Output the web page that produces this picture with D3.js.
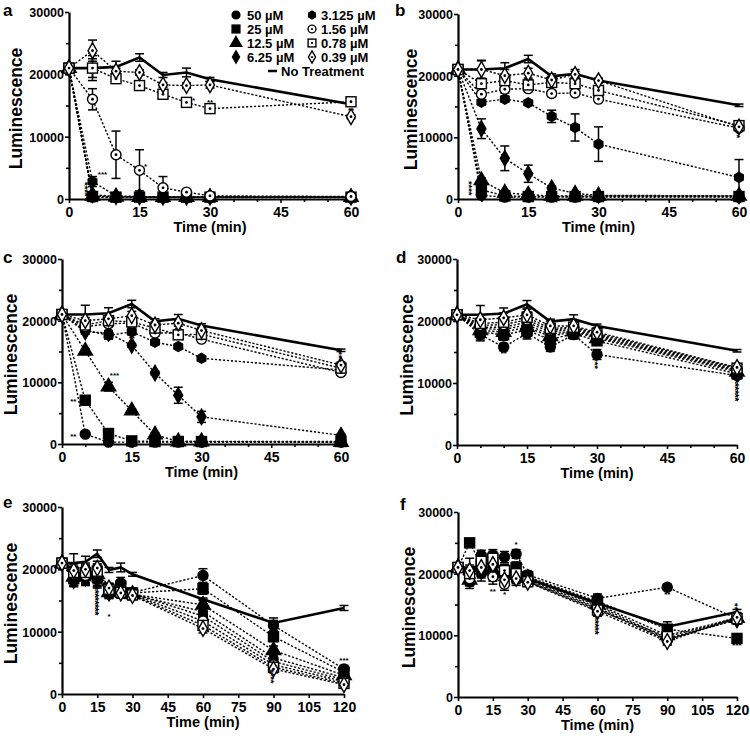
<!DOCTYPE html>
<html>
<head>
<meta charset="utf-8">
<script src="https://cdn.jsdelivr.net/npm/d3@7"></script>
<style>
  body { margin: 0; background: #fff; }
  svg { display: block; }
  text { font-family: "Liberation Sans", Arial, sans-serif; font-weight: bold; fill: #000; }
</style>
</head>
<body>
<script>
// ---- data ----
const times60 = [0, 5, 10, 15, 20, 25, 30, 60];
const times120 = [0, 5, 10, 15, 20, 25, 30, 60, 90, 120];
const concLabels = ['50 µM', '25 µM', '12.5 µM', '6.25 µM', '3.125 µM', '1.56 µM', '0.78 µM', '0.39 µM'];
const yTicks = [0, 10000, 20000, 30000];

const noTreat60 = [21000, 21000, 21200, 22700, 19900, 20300, 19200, 15200];
const noTreat60Err = [0, 1500, 900, 600, 400, 700, 300, 200];
const noTreat120 = [21000, 21000, 21200, 22500, 19900, 20300, 19200, 15200, 11400, 13800];
const noTreat120Err = [0, 1500, 900, 600, 400, 700, 300, 200, 800, 400];

// rows follow concLabels order
const panelA = [
  [21000, 300, 250, 250, 250, 250, 250, 250],
  [21000, 400, 300, 300, 300, 300, 300, 300],
  [21000, 500, 350, 300, 300, 300, 300, 300],
  [21000, 700, 400, 350, 300, 300, 300, 300],
  [21000, 2800, 500, 400, 350, 350, 350, 350],
  [21000, 16000, 7100, 4600, 1800, 1100, 500, 400],
  [21000, 21000, 19300, 18200, 16800, 15500, 14500, 15600],
  [21000, 23800, 20500, 20300, 18300, 18200, 18300, 13200]
];
const panelAErr = [
  [0, 100, 100, 100, 100, 100, 100, 100],
  [0, 100, 100, 100, 100, 100, 100, 100],
  [0, 200, 100, 100, 100, 100, 100, 100],
  [0, 300, 100, 100, 100, 100, 100, 100],
  [0, 800, 200, 100, 100, 100, 100, 100],
  [0, 1700, 3800, 3300, 1800, 300, 200, 100],
  [0, 2000, 600, 600, 500, 600, 400, 300],
  [0, 1700, 500, 400, 400, 400, 500, 300]
];

const panelB = [
  [21000, 600, 300, 300, 300, 300, 300, 300],
  [21000, 1500, 500, 400, 400, 400, 400, 400],
  [21000, 3000, 1000, 700, 500, 500, 500, 500],
  [21000, 11400, 6600, 4100, 1800, 900, 600, 500],
  [21000, 15700, 16200, 15600, 13400, 11600, 8900, 3500],
  [21000, 17000, 17800, 17900, 17100, 17200, 16200, 11500],
  [21000, 18700, 19200, 18500, 18900, 18700, 17600, 11900],
  [21000, 21000, 20000, 20400, 19300, 20200, 19200, 11700]
];
const panelBErr = [
  [0, 200, 100, 100, 100, 100, 100, 100],
  [0, 500, 200, 100, 100, 100, 100, 100],
  [0, 400, 200, 100, 100, 100, 100, 100],
  [0, 1600, 2000, 1400, 300, 200, 200, 100],
  [0, 400, 500, 400, 1000, 2200, 2800, 2900],
  [0, 500, 600, 500, 500, 400, 400, 400],
  [0, 600, 700, 800, 500, 500, 600, 400],
  [0, 1400, 1000, 800, 600, 500, 400, 400]
];

const panelC = [
  [21000, 1600, 300, 300, 300, 300, 300, 300],
  [21000, 7100, 1700, 500, 400, 400, 400, 400],
  [21000, 15100, 9300, 5400, 1500, 400, 400, 300],
  [21000, 18200, 18000, 16000, 11500, 7900, 4400, 1400],
  [21000, 18500, 17600, 18200, 16500, 15800, 13900, 12000],
  [21000, 19000, 19500, 19600, 18000, 18000, 17000, 11600],
  [21000, 19300, 20000, 19800, 18800, 17700, 17800, 12300],
  [21000, 20000, 20300, 20800, 19300, 19600, 18400, 12800]
];
const panelCErr = [
  [0, 300, 100, 100, 100, 100, 100, 100],
  [0, 700, 400, 100, 100, 100, 100, 100],
  [0, 300, 700, 300, 300, 100, 100, 100],
  [0, 400, 400, 300, 300, 1300, 900, 200],
  [0, 500, 600, 500, 400, 300, 300, 400],
  [0, 500, 500, 600, 500, 500, 500, 400],
  [0, 500, 600, 600, 500, 600, 600, 500],
  [0, 500, 500, 700, 500, 500, 500, 500]
];

const panelD = [
  [21000, 17800, 15800, 18000, 15800, 17800, 14600, 11200],
  [21000, 18200, 17800, 18500, 17000, 18000, 16800, 11500],
  [21000, 18500, 18200, 19000, 17500, 18300, 17200, 11800],
  [21000, 18800, 18600, 19400, 17800, 18500, 17400, 12000],
  [21000, 19000, 19000, 19800, 18200, 18700, 17600, 12100],
  [21000, 19300, 19400, 20200, 18500, 18900, 17800, 12300],
  [21000, 19600, 19800, 20600, 18800, 19000, 18000, 12400],
  [21000, 20200, 20500, 21000, 19200, 19200, 18200, 12500]
];
const panelDErr = [
  [0, 1000, 600, 900, 700, 700, 800, 600],
  [0, 1100, 900, 1000, 1000, 800, 700, 600],
  [0, 1000, 900, 1000, 900, 800, 700, 500],
  [0, 900, 1000, 900, 900, 700, 600, 500],
  [0, 900, 1000, 1000, 900, 700, 600, 500],
  [0, 900, 900, 900, 800, 700, 600, 500],
  [0, 800, 900, 900, 800, 600, 600, 500],
  [0, 800, 800, 900, 800, 600, 600, 500]
];

const panelE = [
  [21000, 19000, 19500, 19000, 16800, 17800, 16300, 19000, 11000, 4000],
  [21000, 18500, 19000, 18800, 16500, 17300, 16200, 16900, 9200, 3500],
  [21000, 18800, 19200, 19200, 16300, 17000, 16000, 14300, 7000, 3000],
  [21000, 18200, 18600, 18500, 16200, 16700, 16000, 13200, 5800, 2600],
  [21000, 18400, 18800, 18300, 16400, 16600, 16100, 12500, 5200, 2300],
  [21000, 19200, 19000, 19500, 16600, 16400, 16000, 11700, 4700, 2000],
  [21000, 19500, 19500, 19700, 16800, 16300, 15900, 11000, 4300, 1700],
  [21000, 19800, 20000, 20200, 17000, 16200, 15800, 10500, 4000, 1500]
];
const panelEErr = [
  [0, 1000, 1200, 1300, 900, 900, 700, 1100, 800, 600],
  [0, 1100, 1300, 1400, 900, 1000, 700, 900, 800, 600],
  [0, 1100, 1300, 1400, 900, 1000, 700, 900, 700, 500],
  [0, 1000, 1200, 1300, 900, 900, 700, 900, 700, 500],
  [0, 1000, 1200, 1300, 900, 900, 700, 800, 700, 500],
  [0, 1000, 1100, 1200, 800, 900, 700, 800, 600, 400],
  [0, 900, 1100, 1200, 800, 900, 700, 700, 600, 400],
  [0, 900, 1000, 1100, 800, 800, 700, 700, 600, 400]
];

const panelF = [
  [21000, 18800, 23000, 23000, 22700, 23200, 19800, 16000, 17800, 12700],
  [21000, 25000, 21500, 21800, 20500, 21000, 19500, 15500, 11000, 9500],
  [21000, 19000, 21000, 20500, 20000, 20500, 19300, 15000, 10000, 12800],
  [21000, 19500, 20500, 21000, 19000, 19800, 19200, 14800, 9500, 12500],
  [21000, 18600, 20000, 20000, 19500, 19000, 19000, 14500, 9300, 12600],
  [21000, 19200, 21800, 19500, 18300, 19600, 18800, 14300, 9200, 13000],
  [21000, 20000, 22000, 22500, 20500, 20000, 18700, 14100, 9800, 12700],
  [21000, 20500, 21000, 21500, 19000, 19200, 18600, 13900, 9000, 12900]
];
const panelFErr = [
  [0, 700, 800, 900, 900, 700, 600, 700, 500, 700],
  [0, 600, 1200, 1300, 1000, 900, 700, 700, 600, 500],
  [0, 1000, 1300, 1300, 1100, 900, 700, 800, 600, 700],
  [0, 1000, 1200, 1200, 1000, 900, 700, 800, 600, 700],
  [0, 1000, 1200, 1200, 1000, 900, 700, 800, 600, 700],
  [0, 900, 1100, 1200, 1000, 900, 700, 800, 600, 700],
  [0, 900, 1100, 1100, 1000, 800, 700, 800, 600, 700],
  [0, 900, 1000, 1100, 900, 800, 700, 800, 600, 700]
];

// significance asterisks: [panel, time, value, text, x offset, stacked rows]
const sigMarks = [
  ['a', 5, 4200, '***', 10, 1],
  ['a', 5, 2400, '**', -5, 4],
  ['a', 15, 5400, '*', 6, 1],
  ['a', 25, 16100, '*', 7, 1],
  ['a', 30, 15700, '**', 0, 1],
  ['a', 60, 14500, '**', 0, 1],
  ['b', 5, 2600, '**', -10, 4],
  ['b', 60, 10700, '**', 0, 2],
  ['c', 5, 1500, '**', -12, 1],
  ['c', 5, 7100, '**', -12, 1],
  ['c', 10, 11300, '***', 6, 1],
  ['c', 15, 17300, '**', 0, 1],
  ['c', 60, 14700, '**', 0, 3],
  ['d', 10, 15000, '**', 0, 1],
  ['d', 30, 13700, '**', 0, 3],
  ['d', 60, 10300, '***', 0, 6],
  ['e', 15, 17000, '***', 0, 8],
  ['e', 20, 12700, '*', 0, 1],
  ['e', 90, 3700, '**', 0, 4],
  ['e', 120, 5600, '***', 0, 1],
  ['f', 15, 17300, '**', 0, 1],
  ['f', 20, 16800, '*', 0, 1],
  ['f', 25, 25000, '*', 0, 1],
  ['f', 60, 12800, '***', 0, 5],
  ['f', 90, 16800, '**', 0, 1],
  ['f', 120, 14900, '**', 0, 2],
  ['f', 120, 8600, '***', 0, 1]
];

// marker type per concentration
const markerTypes = ['circle', 'square', 'triangle', 'diamond', 'hex', 'ocircle', 'osquare', 'odiamond'];

// ---- layout ----
const panels = [
  { id: 'a', box: [69, 12, 351, 199], times: times60, xmax: 60, xticks: [0, 15, 30, 45, 60], minor: 5,
    nt: noTreat60, ntErr: noTreat60Err, rows: panelA, errs: panelAErr, label: [3, 16], ylabX: 22, legend: true },
  { id: 'b', box: [458, 14, 739, 199], times: times60, xmax: 60, xticks: [0, 15, 30, 45, 60], minor: 5,
    nt: noTreat60, ntErr: noTreat60Err, rows: panelB, errs: panelBErr, label: [395, 16], ylabX: 417 },
  { id: 'c', box: [62, 259, 341, 444], times: times60, xmax: 60, xticks: [0, 15, 30, 45, 60], minor: 5,
    nt: noTreat60, ntErr: noTreat60Err, rows: panelC, errs: panelCErr, label: [3, 263], ylabX: 17 },
  { id: 'd', box: [457, 259, 737, 445], times: times60, xmax: 60, xticks: [0, 15, 30, 45, 60], minor: 5,
    nt: noTreat60, ntErr: noTreat60Err, rows: panelD, errs: panelDErr, label: [396, 263], ylabX: 413 },
  { id: 'e', box: [62, 507, 344, 694], times: times120, xmax: 120, xticks: d3.range(0, 121, 15), minor: 0,
    nt: noTreat120, ntErr: noTreat120Err, rows: panelE, errs: panelEErr, label: [3, 508], ylabX: 17 },
  { id: 'f', box: [458, 512, 737, 697], times: times120, xmax: 120, xticks: d3.range(0, 121, 15), minor: 0,
    nt: noTreat120, ntErr: noTreat120Err, rows: panelF, errs: panelFErr, label: [400, 510], ylabX: 415 }
];

const svg = d3.select('body').append('svg')
  .attr('width', 750)
  .attr('height', 740);

const hexPath = (r) => {
  const pts = d3.range(6).map(i => {
    const a = Math.PI / 6 + i * Math.PI / 3;
    return [r * Math.cos(a), r * Math.sin(a)];
  });
  return 'M' + pts.map(p => p.join(',')).join('L') + 'Z';
};

const drawMarker = (g, type, cx, cy, s) => {
  s = s || 1;
  const m = g.append('g').attr('transform', `translate(${cx},${cy})`);
  const filled = !type.startsWith('o');
  const fill = filled ? '#000' : '#fff';
  const base = filled ? type : type.slice(1);
  let shape;
  if (base === 'circle') {
    shape = m.append('circle').attr('r', 5 * s);
  } else if (base === 'square') {
    shape = m.append('rect').attr('x', -5 * s).attr('y', -5 * s).attr('width', 10 * s).attr('height', 10 * s);
  } else if (base === 'triangle') {
    shape = m.append('path').attr('d', d3.symbol(d3.symbolTriangle, 90 * s * s)());
  } else if (base === 'diamond') {
    shape = m.append('path').attr('d', d3.symbol(d3.symbolDiamond, 70 * s * s)());
  } else {
    shape = m.append('path').attr('d', hexPath(5 * s));
  }
  shape.attr('fill', fill).attr('stroke', '#000').attr('stroke-width', 1.4);
  if (!filled) {
    m.append('circle').attr('r', 1.4 * s).attr('fill', '#000');
  }
};

panels.forEach(p => {
  const [x0, yt, x1, yb] = p.box;
  const x = d3.scaleLinear().domain([0, p.xmax]).range([x0, x1]);
  const y = d3.scaleLinear().domain([0, 30000]).range([yb, yt]);
  const g = svg.append('g');

  // y axis
  const yAxis = g.append('g')
    .attr('transform', `translate(${x0},0)`)
    .call(d3.axisLeft(y).tickValues(yTicks).tickFormat(d3.format('d')).tickSize(4).tickSizeOuter(0));
  g.append('g')
    .attr('transform', `translate(${x0},0)`)
    .call(d3.axisLeft(y).tickValues([5000, 15000, 25000]).tickFormat('').tickSize(3).tickSizeOuter(0))
    .select('.domain').remove();

  // x axis
  const xAxis = g.append('g')
    .attr('transform', `translate(0,${yb})`)
    .call(d3.axisBottom(x).tickValues(p.xticks).tickSize(4).tickSizeOuter(0));
  if (p.minor) {
    const minorVals = d3.range(0, p.xmax + 1, p.minor).filter(v => p.xticks.indexOf(v) < 0);
    g.append('g')
      .attr('transform', `translate(0,${yb})`)
      .call(d3.axisBottom(x).tickValues(minorVals).tickFormat('').tickSize(3).tickSizeOuter(0))
      .select('.domain').remove();
  }
  g.selectAll('.domain').attr('stroke', '#000').attr('stroke-width', 2.2);
  g.selectAll('.tick line').attr('stroke', '#000').attr('stroke-width', 1.6);
  yAxis.selectAll('text').attr('font-size', 12.5).attr('x', -5).attr('dy', '0.35em')
    .style('font-family', '"Liberation Sans", Arial, sans-serif').style('font-weight', 'bold');
  xAxis.selectAll('text').attr('font-size', 14).attr('y', 7).attr('dy', '0.75em')
    .style('font-family', '"Liberation Sans", Arial, sans-serif').style('font-weight', 'bold');

  // axis titles
  g.append('text')
    .attr('transform', `translate(${p.ylabX},${(yt + yb) / 2 + 3}) rotate(-90)`)
    .attr('text-anchor', 'middle')
    .attr('font-size', 17.5)
    .text('Luminescence');
  g.append('text')
    .attr('x', (x0 + x1) / 2)
    .attr('y', yb + 33)
    .attr('text-anchor', 'middle')
    .attr('font-size', 14.5)
    .text('Time (min)');

  // panel letter
  g.append('text')
    .attr('x', p.label[0]).attr('y', p.label[1])
    .attr('font-size', 17)
    .text(p.id);

  const line = d3.line().x((d, i) => x(p.times[i])).y(d => y(d));

  // dashed series lines
  p.rows.forEach(row => {
    g.append('path')
      .attr('d', line(row))
      .attr('fill', 'none')
      .attr('stroke', '#000')
      .attr('stroke-width', 1.4)
      .attr('stroke-dasharray', '2.2,1.8');
  });

  // no treatment line
  g.append('path')
    .attr('d', line(p.nt))
    .attr('fill', 'none')
    .attr('stroke', '#000')
    .attr('stroke-width', 2.6);

  // error bars
  const errBar = (t, v, e) => {
    if (!e) return;
    const cx = x(t);
    g.append('line').attr('x1', cx).attr('x2', cx).attr('y1', y(v - e)).attr('y2', y(v + e))
      .attr('stroke', '#000').attr('stroke-width', 1.5);
    [v - e, v + e].forEach(w => {
      g.append('line').attr('x1', cx - 4.5).attr('x2', cx + 4.5).attr('y1', y(w)).attr('y2', y(w))
        .attr('stroke', '#000').attr('stroke-width', 1.5);
    });
  };
  p.rows.forEach((row, k) => row.forEach((v, i) => errBar(p.times[i], v, p.errs[k][i])));
  p.nt.forEach((v, i) => errBar(p.times[i], v, p.ntErr[i]));

  // markers (lowest concentration drawn last, on top)
  p.rows.forEach((row, k) => {
    row.forEach((v, i) => drawMarker(g, markerTypes[k], x(p.times[i]), y(v)));
  });

  // significance asterisks; a stack is one rotated run of asterisks
  sigMarks.filter(s => s[0] === p.id).forEach(([, t, v, txt, dx, n]) => {
    const cx = x(t) + dx;
    const cy = y(v);
    if (n === 1) {
      g.append('text')
        .attr('x', cx).attr('y', cy + 4)
        .attr('text-anchor', 'middle')
        .attr('font-size', 8)
        .text(txt);
    } else {
      const fs = 7 + txt.length * 1.3;
      g.append('text')
        .attr('transform', `translate(${cx - 0.56 * fs},${cy - 2}) rotate(90)`)
        .attr('font-size', fs)
        .attr('letter-spacing', 3.6 - 0.389 * fs)
        .text('*'.repeat(n));
    }
  });

  // legend
  if (p.legend) {
    const lg = svg.append('g');
    concLabels.forEach((lab, k) => {
      const col = k < 4 ? 0 : 1;
      const row = k % 4;
      const mx = col === 0 ? 236 : 312;
      const tx = col === 0 ? 247 : 321;
      const cy = 15 + row * 14;
      drawMarker(lg, markerTypes[k], mx, cy, 0.78);
      lg.append('text').attr('x', tx).attr('y', cy + 4.5).attr('font-size', 13).text(lab);
    });
    lg.append('line').attr('x1', 268).attr('x2', 277).attr('y1', 71).attr('y2', 71)
      .attr('stroke', '#000').attr('stroke-width', 2.5);
    lg.append('text').attr('x', 281).attr('y', 75.5).attr('font-size', 13).text('No Treatment');
  }
});
</script>
</body>
</html>
